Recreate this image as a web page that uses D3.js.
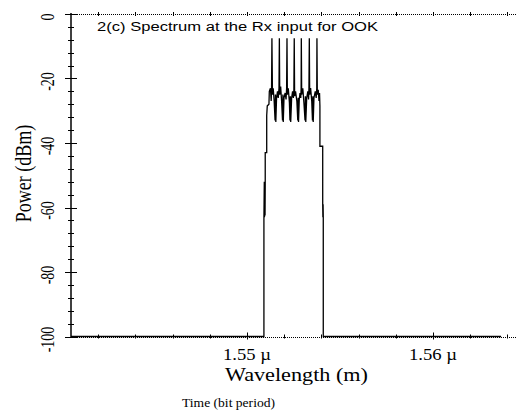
<!DOCTYPE html>
<html>
<head>
<meta charset="utf-8">
<script src="https://cdn.jsdelivr.net/npm/d3@7"></script>
<style>
  body { margin: 0; background: #fff; }
  svg { display: block; }
  .serif { font-family: "Liberation Serif", "DejaVu Serif", serif; fill: #000; }
  .sans { font-family: "Liberation Sans", Arial, sans-serif; fill: #000; }
</style>
</head>
<body>
<div id="chart"></div>
<script>
// spectrum at the Rx input (wavelength in µm, power in dBm)
const wavelengthUm = [
    1.54054, 1.55091, 1.55091, 1.55093, 1.55094, 1.55096, 1.55097, 1.55098, 1.55098, 1.55106,
    1.55106, 1.55109, 1.55118, 1.55120, 1.55126, 1.55130, 1.55132, 1.55134, 1.55137, 1.55141,
    1.55146, 1.55151, 1.55153, 1.55155, 1.55159, 1.55164, 1.55168, 1.55172, 1.55174, 1.55176,
    1.55181, 1.55186, 1.55191, 1.55193, 1.55195, 1.55199, 1.55205, 1.55210, 1.55213, 1.55215,
    1.55217, 1.55222, 1.55228, 1.55231, 1.55233, 1.55235, 1.55240, 1.55245, 1.55249, 1.55252,
    1.55254, 1.55256, 1.55261, 1.55268, 1.55273, 1.55275, 1.55277, 1.55281, 1.55285, 1.55289,
    1.55291, 1.55292, 1.55294, 1.55300, 1.55306, 1.55312, 1.55314, 1.55316, 1.55321, 1.55327,
    1.55331, 1.55333, 1.55335, 1.55337, 1.55342, 1.55348, 1.55352, 1.55354, 1.55356, 1.55360,
    1.55367, 1.55372, 1.55375, 1.55376, 1.55378, 1.55383, 1.55387, 1.55390, 1.55392, 1.55392,
    1.55407, 1.55407, 1.55408, 1.55409, 1.55410, 1.55410, 1.56366
];
const powerDbm = [
    -100, -100, -63.5, -52, -63, -52, -62.5, -52.5, -43, -43,
    -31.5, -28.5, -28, -24, -23, -27, -23.5, -7.5, -25, -23,
    -27, -33, -25, -33.5, -26, -24, -26, -23, -7.5, -25,
    -22.5, -27, -33, -25, -33.5, -26, -24.5, -26.5, -23, -7.5,
    -25, -23, -27.5, -33, -25.5, -33.5, -26, -24, -26, -23.5,
    -7.5, -25.5, -24, -27, -33, -26, -33.5, -26.5, -24.5, -26,
    -23, -7.5, -25, -23, -27.5, -33, -25.5, -33.5, -26, -24,
    -26.5, -23, -7.5, -25, -23, -27, -33, -25.5, -33.5, -26,
    -24, -26, -23, -7.5, -25, -23.5, -27, -24.5, -28.5, -41,
    -41, -59, -63, -59, -63, -100, -100
];

const xDomain = [1.54054, 1.56446];
const yDomain = [-100, 0];
const xMajorTicks = [1.55, 1.56];
const xTickLabels = ["1.55 \u00b5", "1.56 \u00b5"];
const yMajorTicks = [0, -20, -40, -60, -80, -100];
const yTickLabels = ["0", "-20", "-40", "-60", "-80", "-100"];

const width = 516, height = 412;
const plot = {left: 71, right: 516, top: 14, bottom: 336.5};

const svg = d3.select("#chart").append("svg")
    .attr("width", width)
    .attr("height", height);

const x = d3.scaleLinear().domain(xDomain).range([plot.left, plot.right]);
const y = d3.scaleLinear().domain(yDomain).range([plot.bottom, plot.top]);

const xMinorTicks = d3.range(1.542, 1.5645, 0.002);
const yMinorTicks = d3.range(-100, 0.1, 4);

// frame: dotted top / bottom, solid left
svg.append("g").selectAll("line")
    .data([0, -100])
    .enter().append("line")
    .attr("x1", plot.left).attr("x2", plot.right)
    .attr("y1", d => Math.round(y(d)) + 0.5).attr("y2", d => Math.round(y(d)) + 0.5)
    .attr("stroke", "#000")
    .attr("stroke-dasharray", "1,1");

// the spectrum
const line = d3.line()
    .x((d, i) => x(wavelengthUm[i]))
    .y(d => y(d));

svg.append("path")
    .datum(powerDbm)
    .attr("d", line)
    .attr("fill", "none")
    .attr("stroke", "#000")
    .attr("stroke-width", 1.3);

svg.append("line")
    .attr("x1", plot.left).attr("x2", plot.left)
    .attr("y1", plot.top - 1).attr("y2", plot.bottom + 1)
    .attr("stroke", "#000")
    .attr("stroke-width", 1.5);

// y ticks cross the axis on both sides
svg.append("g").selectAll("line")
    .data(yMinorTicks)
    .enter().append("line")
    .attr("x1", plot.left - 3).attr("x2", plot.left + 3)
    .attr("y1", d => Math.round(y(d)) + 0.5).attr("y2", d => Math.round(y(d)) + 0.5)
    .attr("stroke", "#000");

svg.append("g").selectAll("line")
    .data(yMajorTicks)
    .enter().append("line")
    .attr("x1", plot.left - 6).attr("x2", plot.left + 6)
    .attr("y1", d => Math.round(y(d)) + 0.5).attr("y2", d => Math.round(y(d)) + 0.5)
    .attr("stroke", "#000");

// x ticks, top and bottom
[0, -100].forEach(edge => {
    svg.append("g").selectAll("line")
        .data(xMinorTicks)
        .enter().append("line")
        .attr("x1", d => Math.round(x(d)) + 0.5).attr("x2", d => Math.round(x(d)) + 0.5)
        .attr("y1", y(edge) - 2).attr("y2", y(edge) + 2)
        .attr("stroke", "#000");
});
svg.append("g").selectAll("line")
    .data(xMajorTicks)
    .enter().append("line")
    .attr("x1", d => Math.round(x(d)) + 0.5).attr("x2", d => Math.round(x(d)) + 0.5)
    .attr("y1", y(-100) - 4).attr("y2", y(-100) + 3)
    .attr("stroke", "#000");

// tick labels
svg.append("g").selectAll("text")
    .data(yMajorTicks)
    .enter().append("text")
    .attr("class", "serif")
    .attr("transform", d => `translate(54,${y(d) + 3}) rotate(-90) scale(1,1.3)`)
    .attr("text-anchor", "middle")
    .style("font-size", "14px")
    .text((d, i) => yTickLabels[i]);

svg.append("g").selectAll("text")
    .data(xMajorTicks)
    .enter().append("text")
    .attr("class", "serif")
    .attr("x", d => x(d))
    .attr("y", 360)
    .attr("text-anchor", "middle")
    .attr("textLength", 48)
    .attr("lengthAdjust", "spacingAndGlyphs")
    .style("font-size", "16px")
    .text((d, i) => xTickLabels[i]);

// titles
svg.append("text")
    .attr("class", "serif")
    .attr("transform", "translate(31,173.5) rotate(-90) scale(1,1.25)")
    .attr("text-anchor", "middle")
    .style("font-size", "18px")
    .text("Power (dBm)");

svg.append("text")
    .attr("class", "serif")
    .attr("x", 296.5).attr("y", 381)
    .attr("text-anchor", "middle")
    .attr("textLength", 143)
    .attr("lengthAdjust", "spacingAndGlyphs")
    .style("font-size", "19px")
    .text("Wavelength (m)");

svg.append("text")
    .attr("class", "serif")
    .attr("x", 228.5).attr("y", 407)
    .attr("text-anchor", "middle")
    .attr("textLength", 93)
    .attr("lengthAdjust", "spacingAndGlyphs")
    .style("font-size", "12px")
    .text("Time (bit period)");

svg.append("text")
    .attr("class", "sans")
    .attr("x", 97).attr("y", 31)
    .attr("textLength", 281)
    .attr("lengthAdjust", "spacingAndGlyphs")
    .style("font-size", "12.5px")
    .text("2(c) Spectrum at the Rx input for OOK");
</script>
</body>
</html>
